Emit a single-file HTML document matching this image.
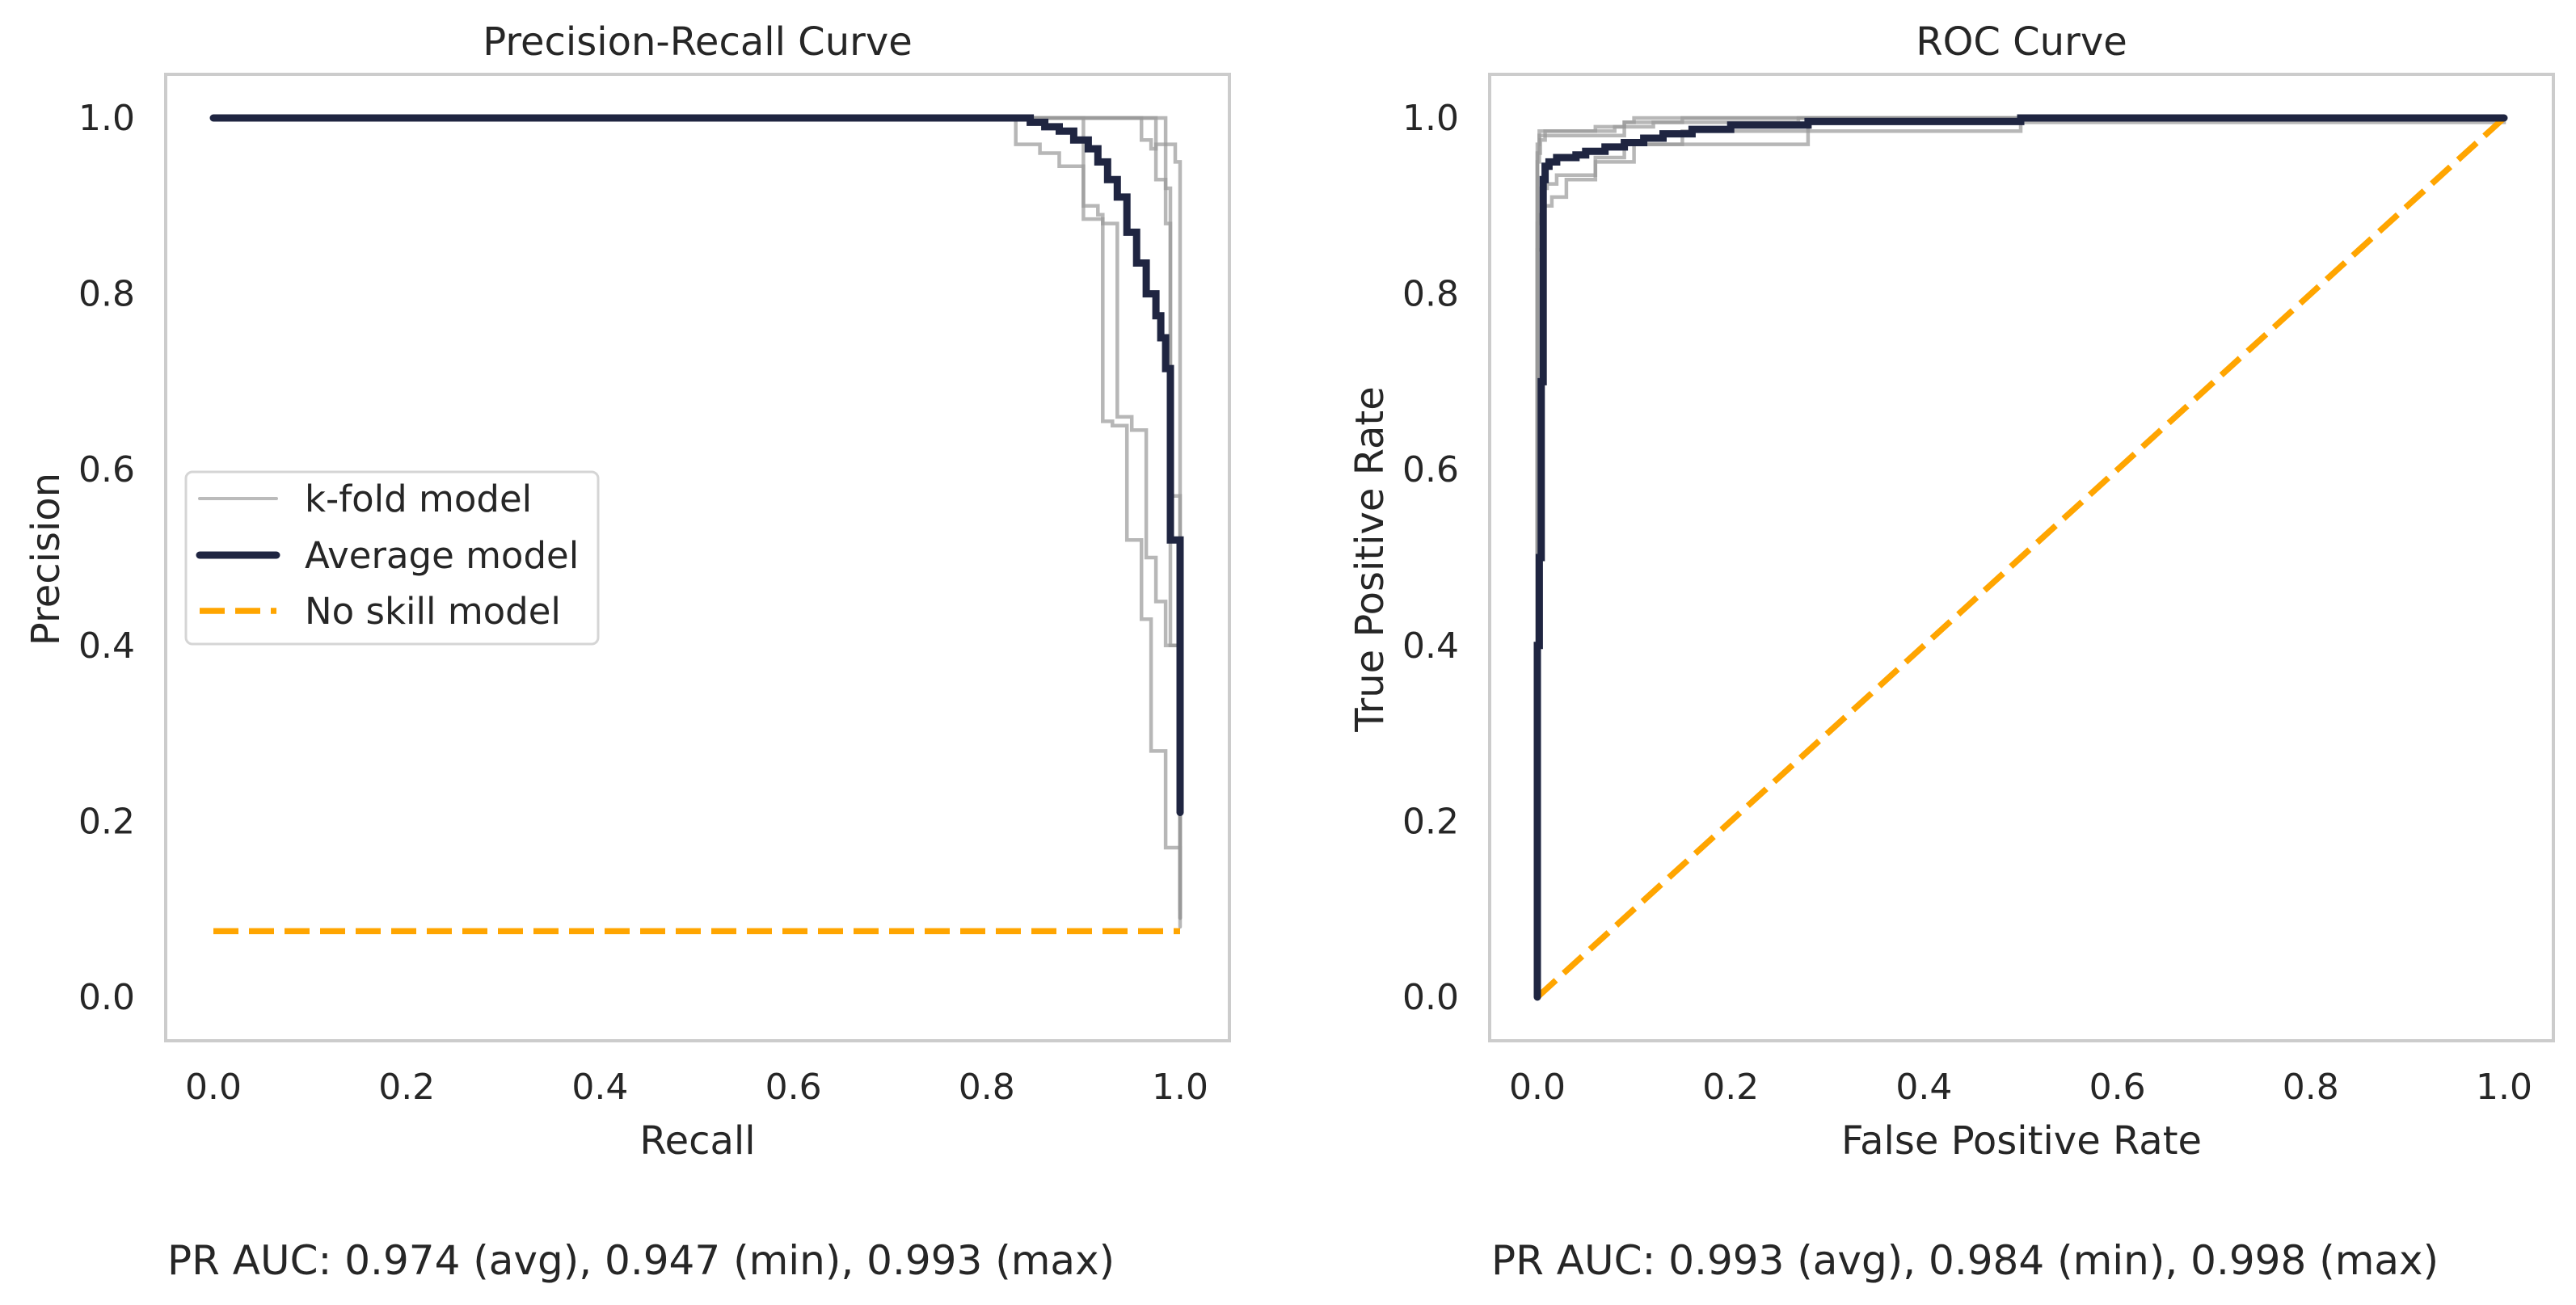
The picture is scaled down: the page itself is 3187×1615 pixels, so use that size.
<!DOCTYPE html>
<html><head><meta charset="utf-8"><style>
html,body{margin:0;padding:0;background:#fff}
svg{display:block}
text{font-family:"DejaVu Sans","Liberation Sans",sans-serif;fill:#262626}
</style></head><body>
<svg id="fig" width="3187" height="1615" viewBox="0 0 3187 1615" xmlns="http://www.w3.org/2000/svg"></svg>
<script>
const ticks = [0, 0.2, 0.4, 0.6, 0.8, 1.0];
const tickLabels = ["0.0","0.2","0.4","0.6","0.8","1.0"];
const prAvgRecall = [0,0.83,0.845,0.86,0.875,0.89,0.905,0.915,0.925,0.935,0.945,0.955,0.965,0.975,0.98,0.985,0.99,1.0,1.0];
const prAvgPrec =   [1,1,0.995,0.99,0.985,0.975,0.965,0.95,0.93,0.91,0.87,0.835,0.80,0.775,0.75,0.715,0.52,0.52,0.21];
const prFold1R = [0,0.83,0.83,0.855,0.875,0.9,0.915,0.92,0.93,0.945,0.96,0.97,0.985,1.0,1.0];
const prFold1P = [1,1,0.97,0.96,0.945,0.9,0.89,0.655,0.65,0.52,0.43,0.28,0.17,0.17,0.08];
const prFold2R = [0,0.90,0.90,0.92,0.935,0.95,0.965,0.975,0.985,1.0,1.0];
const prFold2P = [1,1,0.885,0.88,0.66,0.645,0.50,0.45,0.40,0.30,0.09];
const prFold3R = [0,0.96,0.96,0.97,0.975,0.985,0.99,1.0,1.0];
const prFold3P = [1,1,0.975,0.965,0.97,0.88,0.40,0.37,0.09];
const prFold4R = [0,0.975,0.975,0.985,0.99,1.0,1.0];
const prFold4P = [1,1,0.93,0.92,0.57,0.57,0.10];
const prFold5R = [0,0.985,0.985,0.995,1.0,1.0];
const prFold5P = [1,1,0.97,0.95,0.30,0.09];
const noSkillX = [0,1];
const noSkillY = [0.075,0.075];
const rocAvgFpr = [0,0,0.002,0.004,0.006,0.008,0.012,0.02,0.04,0.05,0.07,0.09,0.11,0.13,0.16,0.2,0.28,0.5,1.0];
const rocAvgTpr = [0,0.40,0.50,0.70,0.93,0.945,0.95,0.955,0.958,0.962,0.967,0.972,0.977,0.982,0.987,0.992,0.996,1.0,1.0];
const rocFold1F = [0,0,0.002,0.005,0.015,0.03,0.06,0.10,0.15,0.2,0.5,0.5,1];
const rocFold1T = [0,0.88,0.89,0.90,0.91,0.93,0.95,0.97,0.985,0.985,0.985,1.0,1];
const rocFold2F = [0,0,0.004,0.01,0.02,0.06,0.09,0.28,0.28,1];
const rocFold2T = [0,0.85,0.92,0.925,0.935,0.955,0.97,0.975,0.995,1];
const rocFold3F = [0,0,0.003,0.008,0.07,0.09,0.12,0.15,1];
const rocFold3T = [0,0.96,0.975,0.98,0.98,0.995,0.995,1.0,1];
const rocFold4F = [0,0,0.002,0.008,0.025,0.06,0.09,0.1,1];
const rocFold4T = [0,0.95,0.98,0.985,0.985,0.99,0.995,1.0,1];
const rocFold5F = [0,0,0.002,0.05,0.08,0.12,0.27,1];
const rocFold5T = [0,0.97,0.985,0.985,0.99,0.995,1.0,1];
const diagX = [0,1];
const diagY = [0,1];

const NS="http://www.w3.org/2000/svg";
const svg=document.getElementById('fig');
function mk(tag,attrs,parent){const e=document.createElementNS(NS,tag);for(const k in attrs)e.setAttribute(k,attrs[k]);(parent||svg).appendChild(e);return e;}
function axes(x0,name){
  const sx=v=>x0+59+v*1196;
  const sy=v=>1234-v*1088;
  return {sx,sy,x0,name};
}
function line(ax,xs,ys,stroke,w,dash,name,op,step){
  let d='M'+ax.sx(xs[0]).toFixed(1)+','+ax.sy(ys[0]).toFixed(1);
  for(let i=1;i<xs.length;i++){
    if(step) d+='L'+ax.sx(xs[i]).toFixed(1)+','+ax.sy(ys[i-1]).toFixed(1);
    d+='L'+ax.sx(xs[i]).toFixed(1)+','+ax.sy(ys[i]).toFixed(1);
  }
  const p=mk('path',{d:d,fill:'none',stroke:stroke,'stroke-width':w,'stroke-linejoin':'miter','stroke-linecap':dash?'butt':'round'});
  if(dash)p.setAttribute('stroke-dasharray',dash);
  if(op)p.setAttribute('stroke-opacity',op);
  
  
}
function frame(ax,title,xl,yl){
  const r=mk('rect',{x:ax.x0,y:92,width:1316,height:1196,fill:'none',stroke:'#cccccc','stroke-width':4});
  
  
  for(let i=0;i<ticks.length;i++){
    const tx=mk('text',{x:ax.sx(ticks[i]),y:1360,'font-size':44,'text-anchor':'middle'});tx.textContent=tickLabels[i];
    
    
    const ty=mk('text',{x:ax.x0-38,y:ax.sy(ticks[i])+15,'font-size':44,'text-anchor':'end'});ty.textContent=tickLabels[i];
    
    
  }
  const t=mk('text',{x:ax.x0+658,y:68,'font-size':48,'text-anchor':'middle'});t.textContent=title;
  
  
  const xt=mk('text',{x:ax.x0+658,y:1428,'font-size':48,'text-anchor':'middle'});xt.textContent=xl;
  
  
  const yx=ax.x0-132;
  const yt=mk('text',{x:yx,y:692,'font-size':48,'text-anchor':'middle',transform:'rotate(-90 '+yx+' 692)'});yt.textContent=yl;
  
  
}
const pr=axes(205,'pr');
const gray='#999999';
frame(pr,'Precision-Recall Curve','Recall','Precision');
line(pr,prFold1R,prFold1P,gray,4.5,null,'pr-fold-1',0.7,true);
line(pr,prFold2R,prFold2P,gray,4.5,null,'pr-fold-2',0.7,true);
line(pr,prFold3R,prFold3P,gray,4.5,null,'pr-fold-3',0.7,true);
line(pr,prFold4R,prFold4P,gray,4.5,null,'pr-fold-4',0.7,true);
line(pr,prFold5R,prFold5P,gray,4.5,null,'pr-fold-5',0.7,true);
line(pr,noSkillX,noSkillY,'#ffa500',7.5,'31,13','pr-no-skill-line');
line(pr,prAvgRecall,prAvgPrec,'#1f2541',9,null,'pr-average-line',null,true);

const roc=axes(1843,'roc');
frame(roc,'ROC Curve','False Positive Rate','True Positive Rate');
line(roc,rocFold1F,rocFold1T,gray,4.5,null,'roc-fold-1',0.7,true);
line(roc,rocFold2F,rocFold2T,gray,4.5,null,'roc-fold-2',0.7,true);
line(roc,rocFold3F,rocFold3T,gray,4.5,null,'roc-fold-3',0.7,true);
line(roc,rocFold4F,rocFold4T,gray,4.5,null,'roc-fold-4',0.7,true);
line(roc,rocFold5F,rocFold5T,gray,4.5,null,'roc-fold-5',0.7,true);
line(roc,diagX,diagY,'#ffa500',7.5,'31,13','roc-no-skill-line');
line(roc,rocAvgFpr,rocAvgTpr,'#1f2541',9,null,'roc-average-line',null,true);

// legend
const lg=mk('g',{});


mk('rect',{x:230,y:584,width:510,height:213,rx:8,fill:'#fff',stroke:'#d5d5d5','stroke-width':3},lg);
const entries=[['k-fold model','#bbbbbb',4,null,617],['Average model','#1f2541',9,null,687],['No skill model','#ffa500',7.5,'31,13',756]];
entries.forEach(e=>{
  const l=mk('line',{x1:247,x2:342,y1:e[4],y2:e[4],stroke:e[1],'stroke-width':e[2],'stroke-linecap':e[3]?'butt':'round'},lg);
  if(e[3])l.setAttribute('stroke-dasharray',e[3]);
  
  
  const t=mk('text',{x:377,y:e[4]+16,'font-size':45},lg);t.textContent=e[0];
  
  
});
const b1=mk('text',{x:207,y:1577,'font-size':50});b1.textContent='PR AUC: 0.974 (avg), 0.947 (min), 0.993 (max)';


const b2=mk('text',{x:1845,y:1577,'font-size':50});b2.textContent='PR AUC: 0.993 (avg), 0.984 (min), 0.998 (max)';


</script>
</body></html>
